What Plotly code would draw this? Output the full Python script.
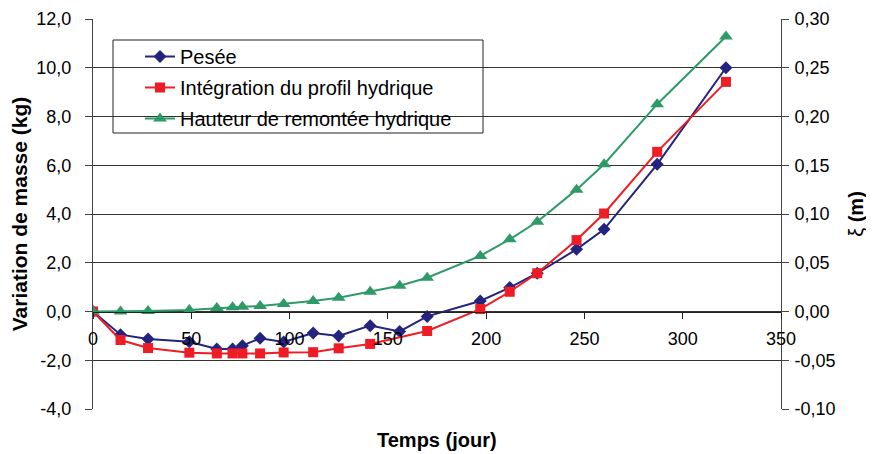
import plotly.graph_objects as go

# Days
days = [0, 14, 28, 49, 63, 71, 76, 85, 97, 112, 125, 141, 156, 170, 197, 212, 226, 246, 260, 287, 322]
# Pesée (kg)
pesee = [0, -0.95, -1.13, -1.24, -1.54, -1.54, -1.4, -1.1, -1.25, -0.88, -1.0, -0.58, -0.82, -0.2,
         0.43, 0.98, 1.57, 2.55, 3.37, 6.04, 10.0]
# Intégration du profil hydrique (kg) - no point at day 156
days_integ = [0, 14, 28, 49, 63, 71, 76, 85, 97, 112, 125, 141, 170, 197, 212, 226, 246, 260, 287, 322]
integ = [0, -1.17, -1.5, -1.69, -1.72, -1.72, -1.72, -1.72, -1.68, -1.67, -1.51, -1.33, -0.8,
         0.1, 0.81, 1.57, 2.93, 4.02, 6.55, 9.42]
# Hauteur de remontée hydrique (m)
hauteur = [0, 0, 0.0005, 0.0015, 0.0036, 0.0043, 0.005, 0.0056, 0.0077, 0.0108, 0.0141, 0.0203,
           0.0264, 0.0346, 0.057, 0.074, 0.092, 0.125, 0.151, 0.2126, 0.282]

names = ["Pesée", "Intégration du profil hydrique", "Hauteur de remontée hydrique"]
y_ticks = [-4, -2, 0, 2, 4, 6, 8, 10, 12]
y2_ticks = [-0.10, -0.05, 0.0, 0.05, 0.10, 0.15, 0.20, 0.25, 0.30]
x_ticks = [0, 50, 100, 150, 200, 250, 300, 350]

y_text = [f"{v:.1f}".replace(".", ",") for v in y_ticks]
y2_text = [f"{v:.2f}".replace(".", ",") for v in y2_ticks]
x_text = [str(v) for v in x_ticks]

navy = "#24247F"
red = "#EE1D25"
green = "#2E9A68"
FONT = "Liberation Sans, Arial, sans-serif"

# the page has an 8px body margin, so the figure is drawn 8px smaller and shifted
OFF = 8
W, H = 874 - OFF, 454 - OFF
ML, MR, MT, MB = 93 - OFF, 93, 19 - OFF, 45
PW, PH = W - ML - MR, H - MT - MB


def px_x(px):
    return (px - OFF - ML) / PW


def px_y(py):
    return (H - MB - (py - OFF)) / PH


fig = go.Figure()
fig.add_trace(go.Scatter(x=days, y=pesee, name=names[0], mode="lines+markers",
                         line=dict(color=navy, width=2),
                         marker=dict(symbol="diamond", size=10, color=navy),
                         legendgroup="a"))
fig.add_trace(go.Scatter(x=days_integ, y=integ, name=names[1], mode="lines+markers",
                         line=dict(color=red, width=2),
                         marker=dict(symbol="square", size=10, color=red),
                         legendgroup="b"))
fig.add_trace(go.Scatter(x=days, y=hauteur, name=names[2], mode="lines+markers",
                         line=dict(color=green, width=2),
                         marker=dict(symbol="triangle-up", size=12, color=green),
                         yaxis="y2", legendgroup="c"))

fig.update_layout(
    width=W, height=H,
    margin=dict(l=ML, r=MR, t=MT, b=MB, autoexpand=False),
    paper_bgcolor="white", plot_bgcolor="white",
    font=dict(family=FONT, size=18, color="black"),
    showlegend=True,
    legend=dict(x=px_x(140), y=px_y(37), xanchor="left", yanchor="top",
                borderwidth=0, bgcolor="rgba(0,0,0,0)",
                font=dict(size=20), tracegroupgap=2, traceorder="grouped",
                itemwidth=30),
    xaxis=dict(range=[0, 350], tickvals=x_ticks, ticktext=x_text,
               anchor="free", position=0.25, showline=True, linecolor="#222", linewidth=1,
               ticks="outside", ticklen=6, tickcolor="#222", showgrid=False, zeroline=False,
               ticklabelstandoff=5, automargin=False),
    yaxis=dict(range=[-4, 12], tickvals=y_ticks, ticktext=y_text,
               showline=True, linecolor="#444", linewidth=1, ticks="outside", ticklen=7,
               tickcolor="#444", showgrid=True, gridcolor="#333", gridwidth=1,
               zeroline=False, ticklabelstandoff=10, automargin=False,
               title=dict(text="<b>Variation de masse (kg)</b>", font=dict(size=21), standoff=8)),
    yaxis2=dict(range=[-0.1, 0.3], tickvals=y2_ticks, ticktext=y2_text, overlaying="y",
                side="right", showline=True, linecolor="#444", linewidth=1, ticks="outside",
                ticklen=7, tickcolor="#444", showgrid=False, zeroline=False, ticklabelstandoff=2,
                automargin=False,
                title=dict(text="ξ <b>(m)</b>", font=dict(size=20), standoff=14)),
    shapes=[dict(type="rect", xref="paper", yref="paper",
                 x0=px_x(113), x1=px_x(483), y0=px_y(133), y1=px_y(40),
                 line=dict(color="#222", width=1), fillcolor="white", layer="between")],
    annotations=[dict(text="<b>Temps (jour)</b>", x=0.5, y=0, xref="paper", yref="paper",
                      xanchor="center", yanchor="middle", yshift=-31, showarrow=False,
                      font=dict(size=20))],
)

fig.write_html("out.html")
